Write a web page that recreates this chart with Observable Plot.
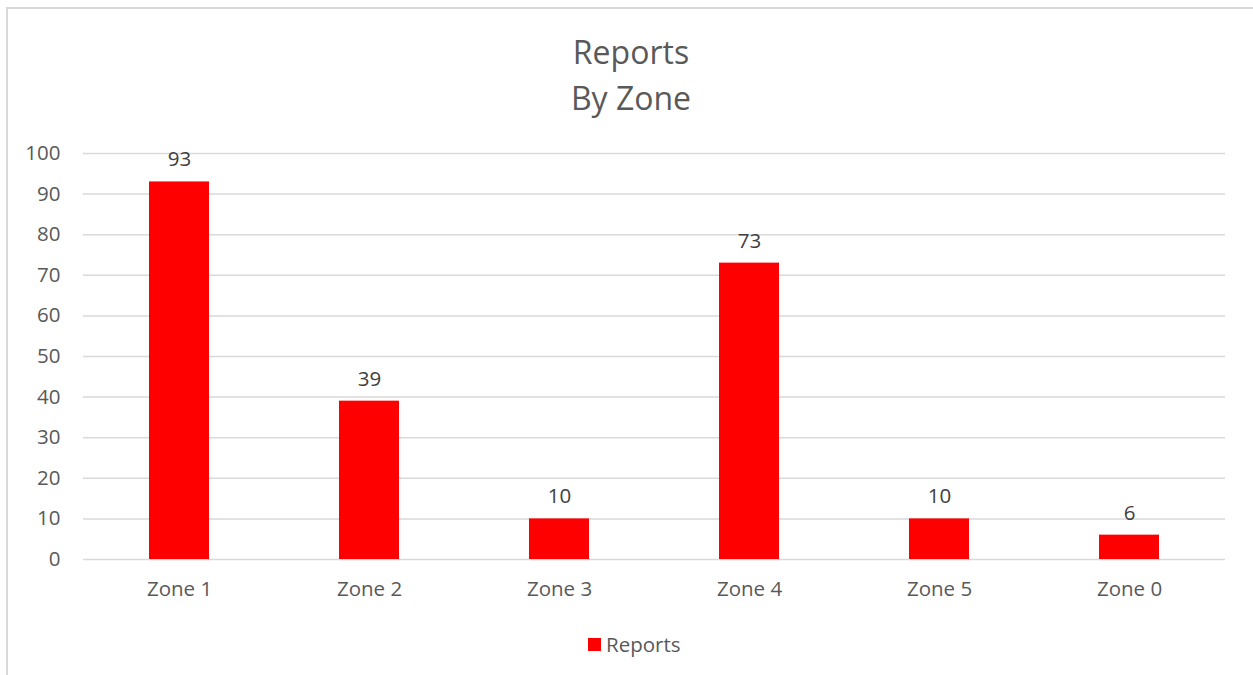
<!DOCTYPE html>
<html>
<head>
<meta charset="utf-8">
<script src="https://cdn.jsdelivr.net/npm/d3@7"></script>
<script src="https://cdn.jsdelivr.net/npm/@observablehq/plot@0.6"></script>
<style>
  html, body { margin: 0; padding: 0; background: #fff; overflow: hidden; }
  #frame { position: relative; width: 1253px; height: 675px; overflow: hidden; font-family: "Open Sans", sans-serif; color: #595959; }
  #border { position: absolute; left: 6px; top: 7px; width: 1270px; height: 700px; border: 2px solid #d9d9d9; box-sizing: border-box; }
  #title { position: absolute; left: 0; width: 1262px; top: 29px; text-align: center; font-size: 32px; line-height: 46px; }
  #chart { position: absolute; left: 0; top: 130px; }
  #legend { position: absolute; left: 588px; top: 630px; font-size: 20.5px; display: flex; align-items: center; }
  #legend .sw { width: 13px; height: 13px; background: #ff0000; margin-right: 5px; }
</style>
</head>
<body>
<div id="frame">
  <div id="border"></div>
  <div id="title">Reports<br>By Zone</div>
  <div id="chart"></div>
  <div id="legend"><span class="sw"></span><span>Reports</span></div>
</div>
<script>
const categories = ["Zone 1", "Zone 2", "Zone 3", "Zone 4", "Zone 5", "Zone 0"];
const reports = [93, 39, 10, 73, 10, 6];
const yTicks = [0, 10, 20, 30, 40, 50, 60, 70, 80, 90, 100];

const data = categories.map((c, i) => ({zone: c, value: reports[i]}));

const chart = Plot.plot({
  width: 1253,
  height: 480,
  marginLeft: 83,
  marginRight: 28,
  marginTop: 23,
  marginBottom: 51,
  style: {fontFamily: "'Open Sans', sans-serif", fontSize: "20.5px", color: "#595959", background: "transparent"},
  x: {domain: categories, paddingInner: 0.685, paddingOuter: 0.3425, label: null},
  y: {domain: [0, 100], label: null},
  marks: [
    Plot.ruleY(yTicks, {stroke: "#d9d9d9", strokeWidth: 1.5}),
    Plot.barY(data, {x: "zone", y: "value", fill: "#ff0000"}),
    Plot.text(data, {x: "zone", y: "value", text: d => String(d.value), dy: -22, fill: "#404040", fontSize: 20.5}),
    Plot.axisY(yTicks, {tickSize: 0, tickPadding: 23, fill: "#595959", fontSize: 20.5}),
    Plot.axisX({tickSize: 0, tickPadding: 22, fill: "#595959", fontSize: 20.5})
  ]
});
document.getElementById("chart").appendChild(chart);
</script>
</body>
</html>
